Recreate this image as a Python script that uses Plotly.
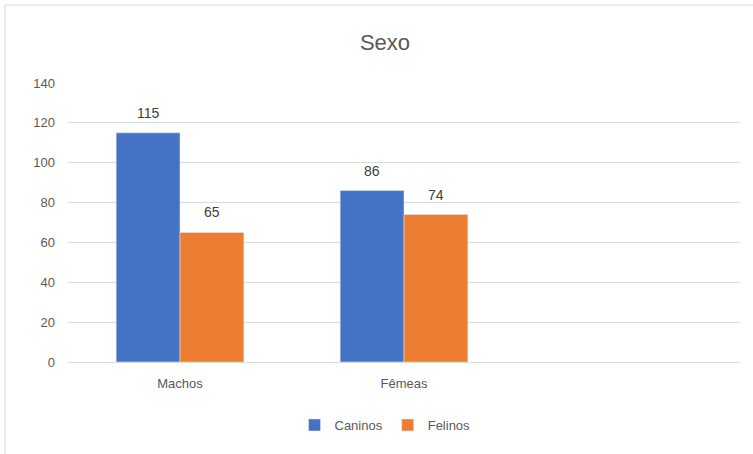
import plotly.graph_objects as go

categories = ["Machos", "Fêmeas"]
caninos = [115, 86]
felinos = [65, 74]
y_ticks = [0, 20, 40, 60, 80, 100, 120, 140]

W, H = 753, 454
L, R, T, B = 68, 13, 83, 92

fig = go.Figure()
fig.add_bar(name="Caninos", x=categories, y=caninos, marker_color="#4472C4",
            offsetgroup="c")
fig.add_bar(name="Felinos", x=categories, y=felinos, marker_color="#ED7D31",
            offsetgroup="f")

# data labels above the bars
for i, cat in enumerate(categories):
    for vals, xs in ((caninos, -0.5), (felinos, 0.5)):
        fig.add_annotation(x=i + xs * 0.285, y=vals[i], xref="x", yref="y",
                           text=str(vals[i]), showarrow=False, yshift=20,
                           font=dict(size=14, color="#404040"))

pw = W - L - R
ph = H - T - B
fig.add_shape(type="rect", xref="paper", yref="paper",
              x0=(5 - L) / pw, x1=(W + 10 - L) / pw,
              y0=(H - B - (H + 10)) / ph, y1=(H - B - 5) / ph,
              line=dict(color="#D9D9D9", width=1), layer="below")

fig.update_layout(
    width=W, height=H,
    margin=dict(l=L, r=R, t=T, b=B),
    paper_bgcolor="white", plot_bgcolor="white",
    font=dict(family="Liberation Sans", color="#595959", size=13),
    title=dict(text="Sexo", x=(385) / W, xanchor="center", y=1 - 42 / H, yanchor="middle",
               font=dict(size=22, color="#595959")),
    barmode="group", bargap=0.43, bargroupgap=0,
    legend=dict(orientation="h", x=(385 - L) / pw, xanchor="center",
                y=-(425 - (H - B)) / ph, yanchor="middle",
                font=dict(size=13, color="#595959"), itemwidth=30),
    xaxis=dict(type="category", range=[-0.5, 2.5], showgrid=False, showline=False,
               ticks="", ticklabelstandoff=12, tickfont=dict(size=13, color="#595959")),
    yaxis=dict(range=[0, 140], tickvals=y_ticks, gridcolor="#D9D9D9", gridwidth=1,
               zeroline=True, zerolinecolor="#D9D9D9", zerolinewidth=1,
               showline=False, ticks="", ticklabelstandoff=12,
               tickfont=dict(size=13, color="#595959")),
)

fig.write_html("out.html")
